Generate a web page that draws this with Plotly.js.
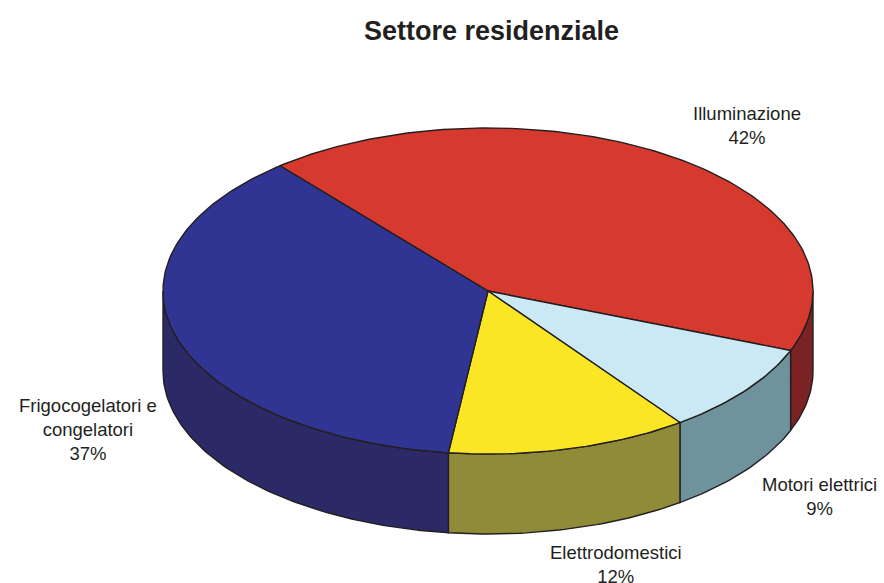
<!DOCTYPE html>
<html><head><meta charset="utf-8">
<script src="https://cdn.plot.ly/plotly-3.0.1.min.js"></script>
<style>html,body{margin:0;padding:0;background:#fff}#c{width:884px;height:583px}</style>
</head><body><div id="c"></div>
<script>
const categories = ['Illuminazione','Motori elettrici','Elettrodomestici','Frigocogelatori e<br>congelatori'];
const values = [42, 9, 12, 37];
const topColors = ['#D63A2F','#CAE9F5','#FBE625','#303594'];
const sideColors = ['#7A2224','#6F939C','#8F8B38','#2B2A66'];
const labelX = [747, 819, 616, 88];
const labelY = [125, 496, 564, 429];
const firstAngle = -39.8;
const cx = 488, cy = 291, rx = 325, ry = 163, depth = 80;

const px = a => cx + rx * Math.sin(a * Math.PI / 180);
const py = a => cy - ry * Math.cos(a * Math.PI / 180);
const arc = (a, b) => { const out = []; const n = Math.max(2, Math.ceil(Math.abs(b - a))); for (let i = 0; i <= n; i++) out.push(a + (b - a) * i / n); return out; };
const line = {color:'#231F20', width:1.4};
const traces = [];
let start = firstAngle;
const total = values.reduce((s, v) => s + v, 0);
const spans = values.map(v => { const s = [start, start + v / total * 360]; start = s[1]; return s; });

spans.forEach((s, i) => {
  const a = Math.max(s[0], 90), b = Math.min(s[1], 270);
  if (b <= a) return;
  const up = arc(a, b), down = arc(b, a);
  traces.push({type:'scatter', mode:'lines', fill:'toself', fillcolor:sideColors[i], line, hoverinfo:'skip',
    x: up.map(px).concat(down.map(px), [px(a)]),
    y: up.map(py).concat(down.map(t => py(t) + depth), [py(a)])});
});
spans.forEach((s, i) => {
  const t = arc(s[0], s[1]);
  traces.push({type:'scatter', mode:'lines', fill:'toself', fillcolor:topColors[i], line, hoverinfo:'skip',
    x: [cx].concat(t.map(px), [cx]),
    y: [cy].concat(t.map(py), [cy])});
});
const annotations = categories.map((c, i) => ({
  x: labelX[i], y: labelY[i], xref:'x', yref:'y', showarrow:false, align:'center',
  text: c + '<br>' + values[i] + '%',
  font:{family:'Liberation Sans, Arial, sans-serif', size:18.5, color:'#231F20'}
}));
Plotly.newPlot('c', traces, {
  width:884, height:583, margin:{l:0,r:0,t:0,b:0}, showlegend:false,
  paper_bgcolor:'#fff', plot_bgcolor:'#fff',
  title:{text:'<b>Settore residenziale</b>', x:0.556, xanchor:'center', y:0.948, yanchor:'middle',
    font:{family:'Liberation Sans, Arial, sans-serif', size:27, color:'#231F20'}},
  xaxis:{range:[0,884], visible:false, fixedrange:true},
  yaxis:{range:[583,0], visible:false, fixedrange:true},
  annotations
}, {staticPlot:true, displayModeBar:false});
</script></body></html>
